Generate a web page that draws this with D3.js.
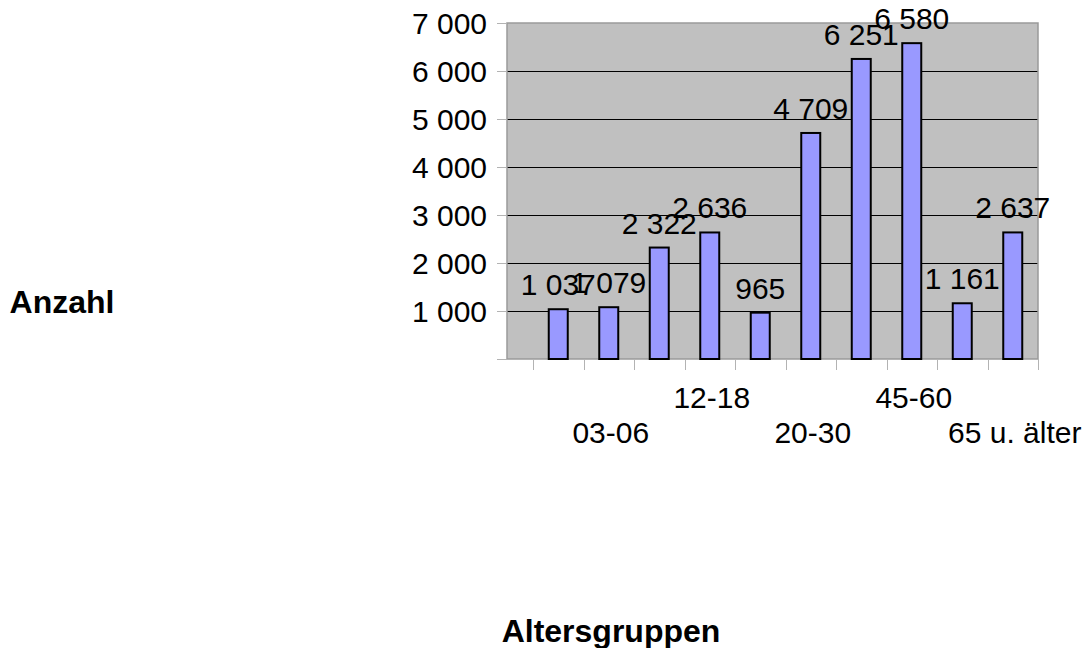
<!DOCTYPE html>
<html>
<head>
<meta charset="utf-8">
<script src="https://cdn.jsdelivr.net/npm/d3@7"></script>
<style>
  body { margin: 0; background: #ffffff; }
  text { font-family: "Liberation Sans", Arial, sans-serif; }
</style>
</head>
<body>
<div id="canvas"></div>
<script>
// age groups (only every second label is shown, as in the original)
const categories = ["00-03", "03-06", "06-12", "12-18", "18-20", "20-30", "30-45", "45-60", "60-65", "65 u. älter"];
const counts = [1037, 1079, 2322, 2636, 965, 4709, 6251, 6580, 1161, 2637];
const yTicks = [0, 1000, 2000, 3000, 4000, 5000, 6000, 7000];
const yTitle = "Anzahl";
const xTitle = "Altersgruppen";

const width = 1084;
const height = 648;
const plot = { left: 507, right: 1038, top: 23, bottom: 359 };
const bandStart = 533;                 // category axis starts a bit right of the plot edge

const svg = d3.select("#canvas")
    .append("svg")
    .attr("width", width)
    .attr("height", height);

const de = d3.formatLocale({ decimal: ",", thousands: " ", grouping: [3], currency: ["", " €"] });
const fmt = de.format(",d");

const y = d3.scaleLinear()
    .domain([0, 7000])
    .range([plot.bottom, plot.top]);

const x = d3.scaleBand()
    .domain(categories)
    .range([bandStart, plot.right])
    .paddingInner(0)
    .paddingOuter(0);

// plot background
svg.append("rect")
    .attr("x", plot.left)
    .attr("y", plot.top)
    .attr("width", plot.right - plot.left)
    .attr("height", plot.bottom - plot.top)
    .attr("fill", "#c0c0c0");

// gridlines (half pixel offset keeps them crisp)
svg.selectAll("line.grid")
    .data(yTicks.filter(d => d > 0 && d < 7000))
    .enter().append("line")
    .attr("class", "grid")
    .attr("x1", plot.left)
    .attr("x2", plot.right)
    .attr("y1", d => y(d) + 0.5)
    .attr("y2", d => y(d) + 0.5)
    .attr("stroke", "#000000")
    .attr("stroke-width", 1);

// plot border
svg.append("rect")
    .attr("x", plot.left)
    .attr("y", plot.top)
    .attr("width", plot.right - plot.left)
    .attr("height", plot.bottom - plot.top)
    .attr("fill", "none")
    .attr("stroke", "#9a9a9a")
    .attr("stroke-width", 1.5);

// y ticks + labels
svg.selectAll("line.ytick")
    .data(yTicks)
    .enter().append("line")
    .attr("class", "ytick")
    .attr("x1", plot.left - 10)
    .attr("x2", plot.left)
    .attr("y1", d => y(d) + 0.5)
    .attr("y2", d => y(d) + 0.5)
    .attr("stroke", "#b3b3b3")
    .attr("stroke-width", 1);

svg.selectAll("text.ylab")
    .data(yTicks.filter(d => d > 0))
    .enter().append("text")
    .attr("class", "ylab")
    .attr("x", 487)
    .attr("y", d => y(d) + 11)
    .attr("text-anchor", "end")
    .attr("font-size", 30)
    .attr("fill", "#000")
    .text(d => fmt(d));

// x ticks at band edges
const xEdges = categories.map(c => x(c)).concat([x(categories[categories.length - 1]) + x.bandwidth()]);
svg.selectAll("line.xtick")
    .data(xEdges)
    .enter().append("line")
    .attr("class", "xtick")
    .attr("x1", d => Math.round(d) + 0.5)
    .attr("x2", d => Math.round(d) + 0.5)
    .attr("y1", plot.bottom)
    .attr("y2", plot.bottom + 11)
    .attr("stroke", "#b3b3b3")
    .attr("stroke-width", 1);

// category labels: every second one, staggered
svg.selectAll("text.xlab")
    .data(categories.filter((d, i) => i % 2 == 1))
    .enter().append("text")
    .attr("class", "xlab")
    .attr("x", d => x(d) + x.bandwidth() / 2 + 2)
    .attr("y", (d, i) => i % 2 == 0 ? 443 : 408)
    .attr("text-anchor", "middle")
    .attr("font-size", 30)
    .attr("fill", "#000")
    .text(d => d);

// bars
const barW = 19;
svg.selectAll("rect.bar")
    .data(counts)
    .enter().append("rect")
    .attr("class", "bar")
    .attr("x", (d, i) => x(categories[i]) + x.bandwidth() / 2 - barW / 2)
    .attr("y", d => y(d))
    .attr("width", barW)
    .attr("height", d => plot.bottom - y(d))
    .attr("fill", "#9999ff")
    .attr("stroke", "#000")
    .attr("stroke-width", 2);

// value labels
svg.selectAll("text.val")
    .data(counts)
    .enter().append("text")
    .attr("class", "val")
    .attr("x", (d, i) => x(categories[i]) + x.bandwidth() / 2)
    .attr("y", d => y(d) - 14)
    .attr("text-anchor", "middle")
    .attr("font-size", 30)
    .attr("fill", "#000")
    .text(d => fmt(d));

// axis titles
svg.append("text")
    .attr("x", 62)
    .attr("y", 313)
    .attr("text-anchor", "middle")
    .attr("font-size", 32)
    .attr("font-weight", "bold")
    .text(yTitle);

svg.append("text")
    .attr("x", 611)
    .attr("y", 642)
    .attr("text-anchor", "middle")
    .attr("font-size", 32)
    .attr("font-weight", "bold")
    .text(xTitle);
</script>
</body>
</html>
